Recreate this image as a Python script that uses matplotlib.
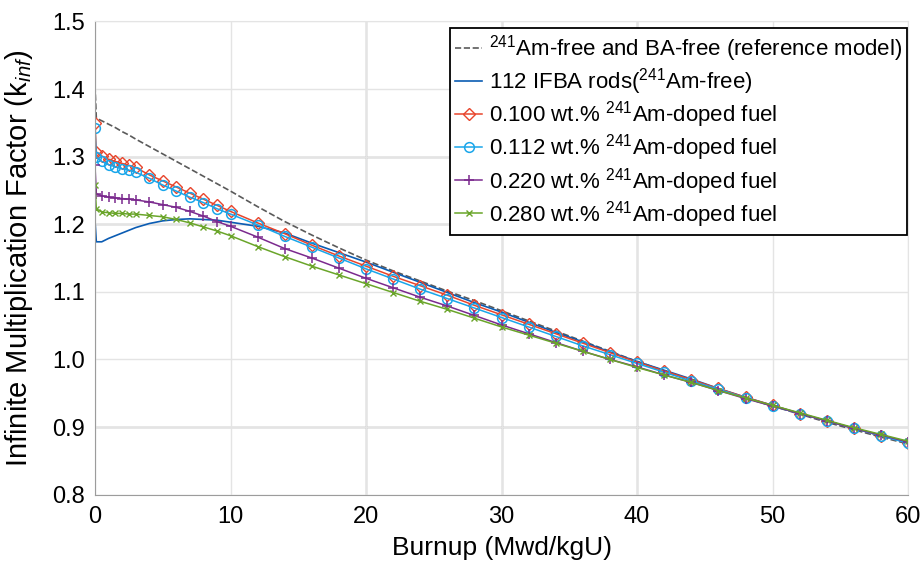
import matplotlib
matplotlib.use('Agg')
import matplotlib.pyplot as plt

plt.rcParams['font.family'] = ['Liberation Sans', 'DejaVu Sans']
plt.rcParams['mathtext.fontset'] = 'custom'
plt.rcParams['mathtext.rm'] = 'Liberation Sans'
plt.rcParams['mathtext.it'] = 'Liberation Sans:italic'

# burnup steps (Mwd/kgU)
burnup = [0, 0.1, 0.5, 1, 1.5, 2, 2.5, 3, 4, 5, 6, 7, 8, 9, 10,
          12, 14, 16, 18, 20, 22, 24, 26, 28, 30, 32, 34, 36, 38, 40,
          42, 44, 46, 48, 50, 52, 54, 56, 58, 60]

k_ref = [1.405, 1.357, 1.353, 1.348, 1.343, 1.337, 1.332, 1.326, 1.315, 1.304,
         1.293, 1.282, 1.271, 1.260, 1.249, 1.226, 1.204, 1.184, 1.165, 1.147,
         1.131, 1.116, 1.101, 1.087, 1.072, 1.057, 1.042, 1.027, 1.012, 0.997,
         0.983, 0.969, 0.956, 0.943, 0.931, 0.919, 0.907, 0.896, 0.885, 0.875]

k_ifba = [1.206, 1.174, 1.174, 1.179, 1.183, 1.187, 1.191, 1.195, 1.201, 1.205,
          1.207, 1.208, 1.207, 1.206, 1.203, 1.197, 1.187, 1.172, 1.158, 1.144,
          1.129, 1.114, 1.099, 1.084, 1.070, 1.055, 1.040, 1.026, 1.011, 0.997,
          0.984, 0.971, 0.957, 0.944, 0.932, 0.920, 0.909, 0.898, 0.887, 0.877]

k_am100 = [1.350, 1.307, 1.301, 1.296, 1.293, 1.290, 1.287, 1.284, 1.273, 1.264,
           1.255, 1.246, 1.237, 1.228, 1.219, 1.202, 1.186, 1.169, 1.153, 1.138,
           1.123, 1.109, 1.095, 1.080, 1.066, 1.052, 1.038, 1.024, 1.010, 0.996,
           0.983, 0.970, 0.957, 0.944, 0.932, 0.920, 0.909, 0.898, 0.887, 0.877]

k_am112 = [1.342, 1.299, 1.293, 1.288, 1.285, 1.282, 1.280, 1.277, 1.268, 1.258,
           1.249, 1.240, 1.232, 1.223, 1.215, 1.199, 1.182, 1.166, 1.150, 1.134,
           1.119, 1.104, 1.090, 1.076, 1.062, 1.048, 1.034, 1.020, 1.007, 0.994,
           0.981, 0.968, 0.956, 0.943, 0.931, 0.920, 0.909, 0.898, 0.887, 0.876]

k_am220 = [1.287, 1.245, 1.242, 1.240, 1.239, 1.238, 1.237, 1.236, 1.233, 1.229,
           1.225, 1.219, 1.212, 1.204, 1.197, 1.181, 1.164, 1.150, 1.135, 1.120,
           1.106, 1.092, 1.079, 1.065, 1.051, 1.038, 1.025, 1.012, 1.000, 0.989,
           0.977, 0.966, 0.954, 0.942, 0.931, 0.920, 0.909, 0.898, 0.888, 0.878]

k_am280 = [1.258, 1.223, 1.218, 1.217, 1.216, 1.216, 1.215, 1.215, 1.213, 1.211,
           1.207, 1.202, 1.196, 1.190, 1.183, 1.167, 1.152, 1.138, 1.125, 1.112,
           1.099, 1.086, 1.074, 1.061, 1.048, 1.036, 1.024, 1.012, 1.000, 0.988,
           0.977, 0.966, 0.954, 0.943, 0.932, 0.921, 0.910, 0.899, 0.889, 0.879]

fig = plt.figure(figsize=(9.22, 5.64), dpi=100)
ax = fig.add_axes([0.103, 0.123, 0.882, 0.839])

# light grid, some lines rendered darker in the original
ax.grid(True, color='#e4e4e4', lw=1.0, zorder=0)
for yv in [0.9, 1.2, 1.3]:
    ax.axhline(yv, color='#8a8a8a', lw=1.0, zorder=0.5)
for xv in [20, 30, 40]:
    ax.axvline(xv, color='#9a9a9a', lw=1.0, zorder=0.5)

ax.plot(burnup, k_ref, '--', color='#5a5a5a', lw=1.2,
        label=r'$^{241}$Am-free and BA-free (reference model)')
ax.plot(burnup, k_ifba, '-', color='#0b5cb3', lw=1.2,
        label=r'112 IFBA rods($^{241}$Am-free)')
ax.plot(burnup, k_am100, '-', color='#e8452c', lw=1.1, marker='D', ms=6,
        mfc='none', mew=1.0, label=r'0.100 wt.% $^{241}$Am-doped fuel')
ax.plot(burnup, k_am112, '-', color='#1aa6ea', lw=1.1, marker='o', ms=7,
        mfc='none', mew=1.1, label=r'0.112 wt.% $^{241}$Am-doped fuel')
ax.plot(burnup, k_am220, '-', color='#7b2a8e', lw=1.1, marker='+', ms=7,
        mew=1.1, label=r'0.220 wt.% $^{241}$Am-doped fuel')
ax.plot(burnup, k_am280, '-', color='#6aa52a', lw=1.1, marker='x', ms=5,
        mew=1.0, label=r'0.280 wt.% $^{241}$Am-doped fuel')

ax.set_xlim(0, 60)
ax.set_ylim(0.8, 1.5)
ax.set_xticks([0, 10, 20, 30, 40, 50, 60])
ax.set_yticks([0.8, 0.9, 1.0, 1.1, 1.2, 1.3, 1.4, 1.5])
ax.set_yticklabels(['0.8', '0.9', '1.0', '1.1', '1.2', '1.3', '1.4', '1.5'])
ax.tick_params(length=0, labelsize=17)
ax.tick_params(axis='x', pad=8)
ax.tick_params(axis='y', pad=7)

for side in ['left', 'bottom']:
    ax.spines[side].set_color('#9c9c9c')
for side in ['top', 'right']:
    ax.spines[side].set_color('#e4e4e4')

ax.set_xlabel('Burnup (Mwd/kgU)', fontsize=19, labelpad=6)
ax.set_ylabel(r'Infinite Multiplication Factor (k$_{inf}$)', fontsize=21)
ax.yaxis.set_label_coords(-0.074, 0.5)

leg = ax.legend(loc='upper right', bbox_to_anchor=(0.999, 0.987), fontsize=16,
                fancybox=False, framealpha=1, edgecolor='black',
                handlelength=1.2, handletextpad=0.3, labelspacing=0.1,
                borderpad=0.25, borderaxespad=0)
leg.get_frame().set_linewidth(1.3)

fig.savefig('out.png', dpi=100)
